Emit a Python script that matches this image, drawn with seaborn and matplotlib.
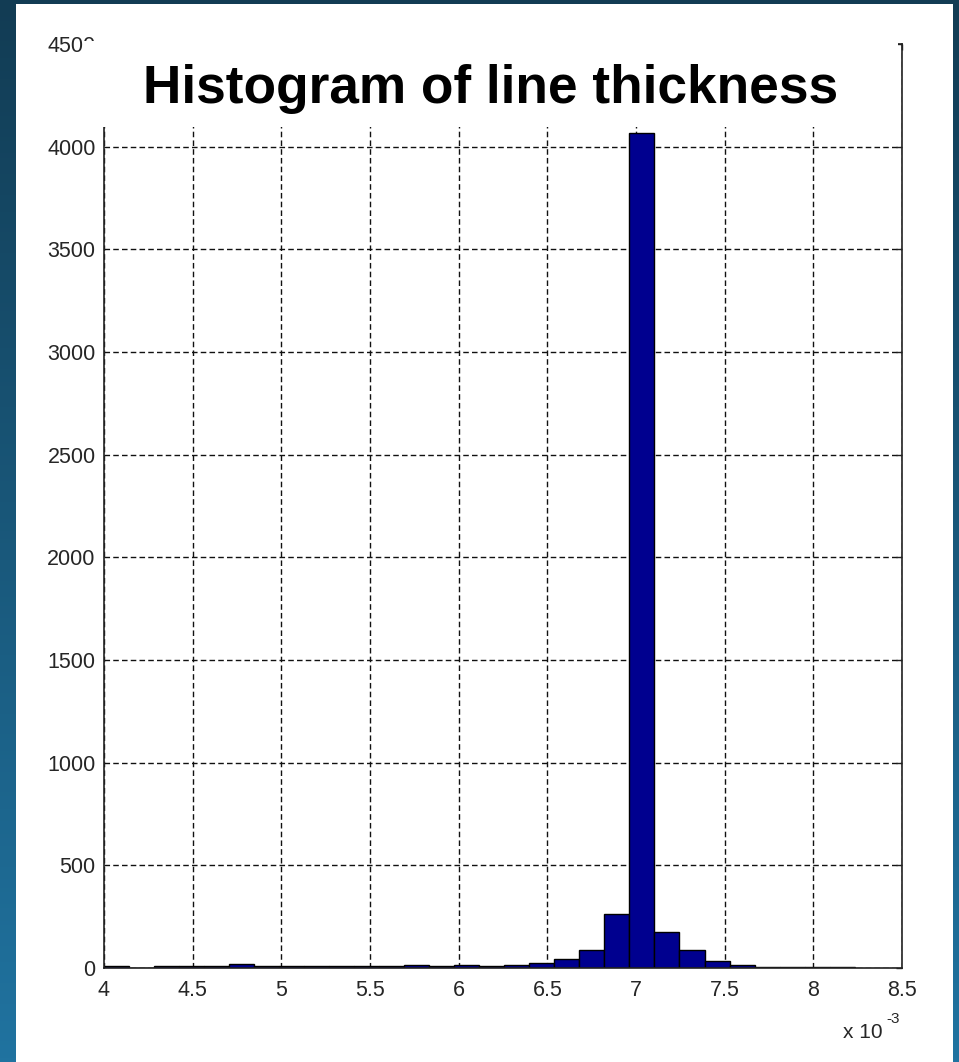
import numpy as np
import pandas as pd
import matplotlib
matplotlib.use("Agg")
import matplotlib.pyplot as plt
from matplotlib.patches import Rectangle
import seaborn as sns

# ---- data (line thickness in units of 1e-3) ----
bin_start = 4.0
bin_stop = 8.233
n_bins = 30
counts = [11, 1, 10, 10, 10, 20, 10, 9, 9, 9,
          9, 8, 16, 9, 15, 10, 16, 26, 44, 88,
          265, 4068, 173, 88, 36, 16, 4, 3, 3, 3]
x_ticks = [4, 4.5, 5, 5.5, 6, 6.5, 7, 7.5, 8, 8.5]
x_tick_labels = ["4", "4.5", "5", "5.5", "6", "6.5", "7", "7.5", "8", "8.5"]
y_ticks = [0, 500, 1000, 1500, 2000, 2500, 3000, 3500, 4000, 4500]
y_tick_labels = ["0", "500", "1000", "1500", "2000", "2500", "3000", "3500", "4000", "4500"]
title = "Histogram of line thickness"
offset_label = "x 10"
offset_exp = "-3"

edges = np.linspace(bin_start, bin_stop, n_bins + 1)
centers = (edges[:-1] + edges[1:]) / 2
df = pd.DataFrame({"thickness": centers, "count": counts})

sns.set_style("white")
plt.rcParams["font.family"] = ["Liberation Sans", "DejaVu Sans"]

W, H = 959, 1062
fig = plt.figure(figsize=(W / 100, H / 100), dpi=100)

# background gradient
bg = fig.add_axes([0, 0, 1, 1], zorder=-10)
grad = np.linspace(0, 1, 256).reshape(-1, 1)
top = np.array(matplotlib.colors.to_rgb("#123c54"))
bot = np.array(matplotlib.colors.to_rgb("#2073a0"))
img = top[None, None, :] * (1 - grad[..., None]) + bot[None, None, :] * grad[..., None]
bg.imshow(img, aspect="auto", extent=[0, 1, 0, 1])
bg.add_patch(Rectangle((16 / W, 0), (953 - 16) / W, 1 - 4 / H, facecolor="white", edgecolor="none"))
bg.set_xlim(0, 1)
bg.set_ylim(0, 1)
bg.axis("off")

ax = fig.add_axes([104 / W, 1 - 968 / H, (902 - 104) / W, (968 - 44) / H])
sns.histplot(data=df, x="thickness", weights="count", bins=n_bins,
             binrange=(bin_start, bin_stop),
             color="#00008f", edgecolor="black", linewidth=1.0, alpha=1.0, ax=ax)
ax.set_xlim(4, 8.5)
ax.set_ylim(0, 4500)
ax.set_xticks(x_ticks)
ax.set_xticklabels(x_tick_labels)
ax.set_yticks(y_ticks)
ax.set_yticklabels(y_tick_labels)
ax.set_xlabel("")
ax.set_ylabel("")
ax.set_axisbelow(True)
ax.grid(True, color="#111111", linestyle=(0, (4.0, 2.3)), linewidth=1.0)
for s in ax.spines.values():
    s.set_visible(True)
    s.set_color("#222222")
    s.set_linewidth(1.2)
ax.tick_params(direction="in", length=4.5, width=1, color="#222222",
               top=True, right=True, labelsize=15.5, labelcolor="#262626")
ax.tick_params(axis="x", pad=9)
ax.tick_params(axis="y", pad=6)

# title panel covering top of the axes
fig.add_artist(Rectangle((83 / W, 1 - 127 / H), (898 - 83) / W, (127 - 41) / H,
                         transform=fig.transFigure, facecolor="white", edgecolor="none", zorder=5))
fig.text(491 / W, 1 - 103 / H, title, ha="center", va="baseline",
         fontsize=38.3, fontweight="bold", color="black", zorder=6)

fig.text(843 / W, 1 - 1038 / H, offset_label, ha="left", va="baseline",
         fontsize=15, color="#262626")
fig.text(886 / W, 1 - 1023 / H, offset_exp, ha="left", va="baseline",
         fontsize=11, color="#262626")

fig.savefig("out.png", dpi=100)
